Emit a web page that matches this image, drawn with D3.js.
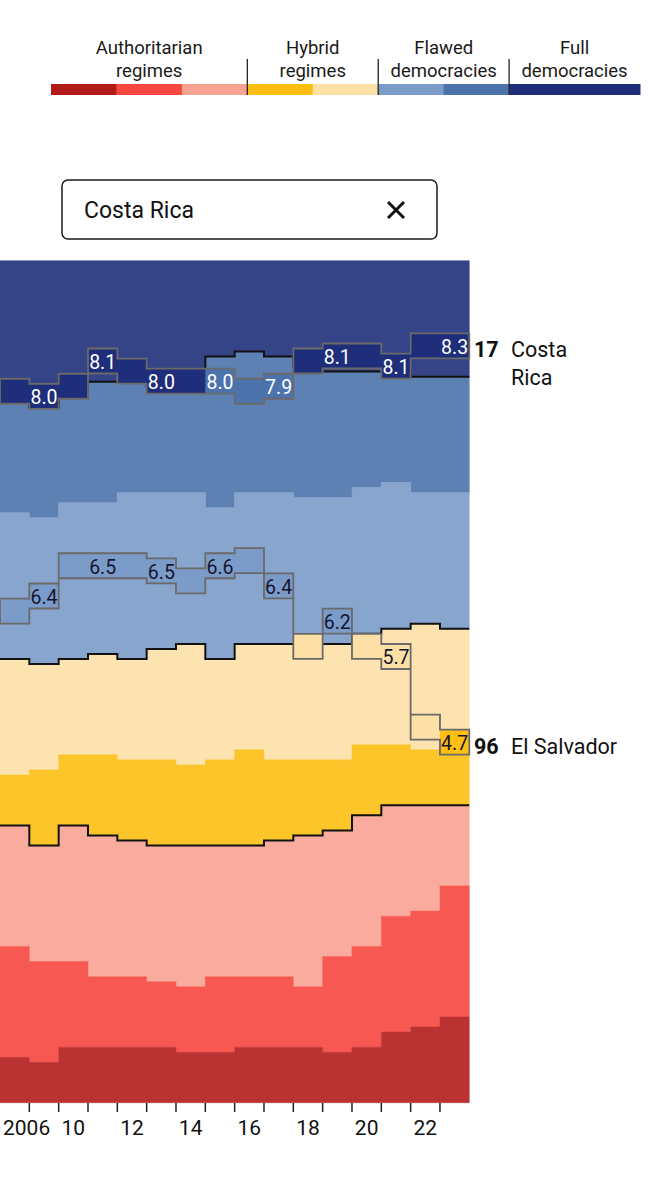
<!DOCTYPE html>
<html>
<head>
<meta charset="utf-8">
<script src="https://cdn.jsdelivr.net/npm/d3@7"></script>
<style>
  body { margin: 0; background: #fff; }
  svg { display: block; font-family: Roboto, "Noto Sans", sans-serif; }
</style>
</head>
<body>
<script>
// EIU democracy index, countries per score band (ranked from top), 2006-2023
var years = [2006, 2008, 2010, 2011, 2012, 2013, 2014, 2015, 2016, 2017, 2018, 2019, 2020, 2021, 2022, 2023];

var fullDem    = [27, 29, 26, 24, 24, 25, 25, 19, 18, 19, 21, 22, 22, 22, 23, 23]; // 8-10
var flawedHigh = [23, 22, 22, 24, 22, 21, 21, 30, 28, 27, 26, 25, 23, 22, 23, 23]; // 7-8
var flawedLow  = [29, 29, 31, 30, 33, 31, 30, 30, 30, 30, 29, 29, 29, 29, 26, 27]; // 6-7
var hybridHigh = [23, 21, 19, 20, 20, 22, 24, 20, 21, 23, 23, 23, 22, 23, 25, 23]; // 5-6
var hybridLow  = [10, 15, 14, 16, 16, 17, 16, 17, 19, 16, 15, 14, 14, 12, 11, 12]; // 4-5
var authHigh   = [24, 23, 27, 28, 27, 27, 28, 26, 26, 27, 30, 25, 26, 22, 21, 16]; // 3-4
var authMid    = [22, 20, 17, 14, 14, 13, 13, 15, 14, 14, 12, 19, 20, 23, 23, 26]; // 2-3
var authLow    = [ 9,  8, 11, 11, 11, 11, 10, 10, 11, 11, 11, 10, 11, 14, 15, 17]; // 0-2

// highlighted countries: rank and score each year
var costaRicaRank  = [26, 27, 25, 20, 22, 24, 24, 24, 26, 25, 20, 19, 19, 21, 17, 17];
var costaRicaScore = [8.04, 8.04, 8.04, 8.10, 8.10, 8.03, 8.03, 7.96, 7.88, 7.88, 8.07, 8.13, 8.16, 8.07, 8.29, 8.29];
var elSalvadorRank  = [70, 67, 61, 61, 61, 62, 64, 61, 60, 65, 77, 72, 77, 79, 93, 96];
var elSalvadorScore = [6.22, 6.40, 6.47, 6.47, 6.47, 6.53, 6.53, 6.64, 6.64, 6.43, 5.96, 6.15, 5.90, 5.72, 5.06, 4.71];

var tickYears = [2006, 2010, 2012, 2014, 2016, 2018, 2020, 2022];

var legendGroups = [["Authoritarian", "regimes"], ["Hybrid", "regimes"], ["Flawed", "democracies"], ["Full", "democracies"]];
var legendBreaks = [1, 4, 6, 8, 10];
var binEdges = [1, 2, 3, 4, 5, 6, 7, 8, 10];

var keys = ["full", "flawedHigh", "flawedLow", "hybridHigh", "hybridLow", "authHigh", "authMid", "authLow"];
var counts = {full: fullDem, flawedHigh: flawedHigh, flawedLow: flawedLow, hybridHigh: hybridHigh,
              hybridLow: hybridLow, authHigh: authHigh, authMid: authMid, authLow: authLow};
var colour = {
  authLow: "#b31b1b", authMid: "#f6463f", authHigh: "#f8a392",
  hybridLow: "#fcbf12", hybridHigh: "#fde0a6",
  flawedLow: "#7b9bc9", flawedHigh: "#4c73ab", full: "#1f2e7a"
};
var legendKeys = ["authLow", "authMid", "authHigh", "hybridLow", "hybridHigh", "flawedLow", "flawedHigh", "full"];

function binOf(s) {
  if (s >= 8) return "full";
  if (s >= 7) return "flawedHigh";
  if (s >= 6) return "flawedLow";
  if (s >= 5) return "hybridHigh";
  if (s >= 4) return "hybridLow";
  if (s >= 3) return "authHigh";
  if (s >= 2) return "authMid";
  return "authLow";
}
// regions a touch paler than the highlight boxes
function faded(c) { return d3.interpolateRgb("#ffffff", c)(0.9); }

var width = 661, height = 1200;
var svg = d3.select("body").append("svg")
  .attr("width", width)
  .attr("height", height);

// ---- legend
var lx = d3.scaleLinear().domain([1, 10]).range([51, 640]);
var legend = svg.append("g");
legend.selectAll("rect").data(legendKeys).join("rect")
  .attr("x", function(k, i) { return lx(binEdges[i]); })
  .attr("width", function(k, i) { return lx(binEdges[i + 1]) - lx(binEdges[i]) + 0.5; })
  .attr("y", 84).attr("height", 11)
  .attr("fill", function(k) { return colour[k]; });
legend.selectAll("line").data(legendBreaks.slice(1, 4)).join("line")
  .attr("x1", function(d) { return lx(d); }).attr("x2", function(d) { return lx(d); })
  .attr("y1", 59).attr("y2", 95)
  .attr("stroke", "#222").attr("stroke-width", 1.3);
legendGroups.forEach(function(lines, i) {
  var cx = lx((legendBreaks[i] + legendBreaks[i + 1]) / 2);
  var t = legend.append("text")
    .attr("text-anchor", "middle").attr("font-size", 18.5).attr("fill", "#1a1a1a");
  lines.forEach(function(l, j) {
    t.append("tspan").attr("x", cx).attr("y", 54 + j * 23).text(l);
  });
});

// ---- search box
var search = svg.append("g");
search.append("rect").attr("x", 62).attr("y", 180).attr("width", 375).attr("height", 59)
  .attr("rx", 6).attr("fill", "#fff").attr("stroke", "#1a1a1a").attr("stroke-width", 1.5);
search.append("text").attr("x", 84).attr("y", 218).attr("font-size", 23).attr("fill", "#111").text("Costa Rica");
search.append("path").attr("d", "M388,202L404,218M404,202L388,218")
  .attr("stroke", "#111").attr("stroke-width", 3).attr("fill", "none");

// ---- stacked step areas
var x = d3.scaleBand().domain(years).range([0, 469.3]);
var bw = x.bandwidth();
var y = d3.scaleLinear().domain([0, 167]).range([260.7, 1102.7]);

var table = years.map(function(yr, i) {
  var r = {year: yr};
  keys.forEach(function(k) { r[k] = counts[k][i]; });
  return r;
});
var series = d3.stack().keys(keys)(table);

function steps(s) {
  var pts = [];
  s.forEach(function(d) {
    pts.push({x: x(d.data.year), d: d});
    pts.push({x: x(d.data.year) + bw, d: d});
  });
  return pts;
}
var area = d3.area().x(function(p) { return p.x; })
  .y0(function(p) { return y(p.d[0]); })
  .y1(function(p) { return y(p.d[1]); });

svg.append("g").selectAll("path").data(series).join("path")
  .attr("d", function(s) { return area(steps(s)); })
  .attr("fill", function(s) { return faded(colour[s.key]); })
  .attr("stroke", function(s) { return faded(colour[s.key]); })
  .attr("stroke-width", 0.5);

// category borders at 8, 6 and 4
var stepLine = d3.line().x(function(p) { return p.x; }).y(function(p) { return y(p.d[1]); });
[0, 2, 4].forEach(function(k) {
  svg.append("path").attr("d", stepLine(steps(series[k])))
    .attr("fill", "none").attr("stroke", "#111").attr("stroke-width", 2);
});

// ---- highlighted countries
var boxH = 25;
var highlights = [
  {name: ["Costa", "Rica"], ranks: costaRicaRank, scores: costaRicaScore, shift: 2},
  {name: ["El Salvador"], ranks: elSalvadorRank, scores: elSalvadorScore, shift: 0}
];
highlights.forEach(function(c) {
  var pts = years.map(function(yr, i) {
    return {yr: yr, i: i, cy: y(c.ranks[i] - 0.5) + c.shift, s: c.scores[i]};
  });
  var g = svg.append("g");
  g.selectAll("rect").data(pts).join("rect")
    .attr("x", function(p) { return x(p.yr); })
    .attr("width", function(p) { return p.i < years.length - 1 ? bw + 0.5 : bw; })
    .attr("y", function(p) { return p.cy - boxH / 2; })
    .attr("height", boxH)
    .attr("fill", function(p) { return colour[binOf(p.s)]; });

  var outline = [];
  pts.forEach(function(p) {
    outline.push({x: x(p.yr), cy: p.cy});
    outline.push({x: x(p.yr) + bw, cy: p.cy});
  });
  g.append("path")
    .attr("d", d3.area().x(function(o) { return o.x; })
      .y0(function(o) { return o.cy + boxH / 2; })
      .y1(function(o) { return o.cy - boxH / 2; })(outline))
    .attr("fill", "none").attr("stroke", "#6a6a6a").attr("stroke-width", 1.8);

  g.selectAll("text.val").data(pts.filter(function(p) { return p.i % 2 === 1; })).join("text")
    .attr("class", "val")
    .attr("x", function(p) { return x(p.yr) + bw / 2; })
    .attr("y", function(p) { return p.cy + 1; })
    .attr("dy", "0.35em")
    .attr("text-anchor", "middle").attr("font-size", 19.5)
    .attr("fill", function(p) { return p.s >= 7 ? "#fff" : "#151530"; })
    .text(function(p) { return p.s.toFixed(1); });

  var last = pts[pts.length - 1];
  g.append("text").attr("x", 474).attr("y", last.cy + 4).attr("dy", "0.35em")
    .attr("font-size", 21.5).attr("font-weight", 700).attr("fill", "#111")
    .text(c.ranks[c.ranks.length - 1]);
  c.name.forEach(function(n, j) {
    g.append("text").attr("x", 511).attr("y", last.cy + 4 + j * 28).attr("dy", "0.35em")
      .attr("font-size", 21.5).attr("fill", "#111").text(n);
  });
});

// ---- x axis
var axis = svg.append("g").attr("transform", "translate(0,1103)");
axis.call(d3.axisBottom(x).tickValues(tickYears).tickSize(0).tickPadding(17)
  .tickFormat(function(d) { return d === 2006 ? "2006" : String(d).slice(2); }));
axis.select(".domain").remove();
axis.selectAll("text").attr("font-size", 21).attr("font-family", "Roboto, sans-serif").attr("fill", "#111");
axis.selectAll(".tick").filter(function(d) { return d === 2006; }).select("text")
  .attr("text-anchor", "start").attr("x", 3 - (x(2006) + bw / 2));
axis.selectAll("line.bound").data(years.slice(1)).join("line")
  .attr("class", "bound")
  .attr("x1", function(d) { return x(d); }).attr("x2", function(d) { return x(d); })
  .attr("y1", 0).attr("y2", 9)
  .attr("stroke", "#222").attr("stroke-width", 1.5);
</script>
</body>
</html>
